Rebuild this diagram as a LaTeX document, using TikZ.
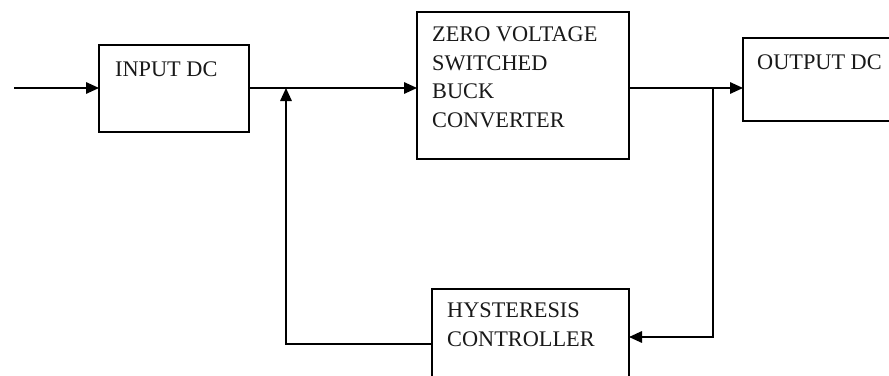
\documentclass[tikz,border=0pt]{standalone}
\usepackage{fontspec}
\setmainfont{Liberation Serif}
\usetikzlibrary{arrows.meta}
\tikzset{
  blk/.style={draw=black, line width=1.5pt, rectangle, inner sep=0pt, outer sep=0pt, anchor=north west},
  lbl/.style={anchor=north west, inner sep=0pt, align=left, text=black!90, font=\fontsize{22.3}{28.5}\selectfont},
  conn/.style={draw=black, line width=1.6pt},
  arr/.style={conn, -{Triangle[length=13pt,width=11.5pt]}}
}
\begin{document}
\begin{tikzpicture}[x=1pt,y=-1pt]
\useasboundingbox (0,0) rectangle (889,375);
\clip (0,0) rectangle (889,375);
\fill[white] (0,0) rectangle (889,375);
% blocks
\node[blk, minimum width=150pt, minimum height=87pt] (inp) at (99,45) {};
\node[blk, minimum width=212pt, minimum height=147pt] (zvs) at (417,12) {};
\node[blk, minimum width=170pt, minimum height=83pt] (out) at (743,38) {};
\node[blk, minimum width=197pt, minimum height=110pt] (hys) at (432,289) {};
% labels
\node[lbl] (tinp) at (115,62) {INPUT DC};
\node[lbl] (tzvs) at (432,27) {ZERO VOLTAGE\\SWITCHED\\BUCK\\CONVERTER};
\node[lbl] (tout) at (757,55) {OUTPUT DC};
\node[lbl] (thys) at (447,303) {HYSTERESIS\\CONTROLLER};
% coordinates
\coordinate (src) at (14,88);
\coordinate (j1) at (286,88);
\coordinate (j2) at (713,88);
\coordinate (c1) at (713,337);
\coordinate (c2) at (286,344);
% connectors
\draw[arr] (src) -- (src -| inp.west);
\draw[arr] (j1 -| inp.east) -- (j1 -| zvs.west);
\draw[arr] (j2 -| zvs.east) -- (j2 -| out.west);
\draw[arr] (j2) -- (c1) -- (c1 -| hys.east);
\draw[arr] (c2 -| hys.west) -- (c2) -- (j1);
\end{tikzpicture}
\end{document}
